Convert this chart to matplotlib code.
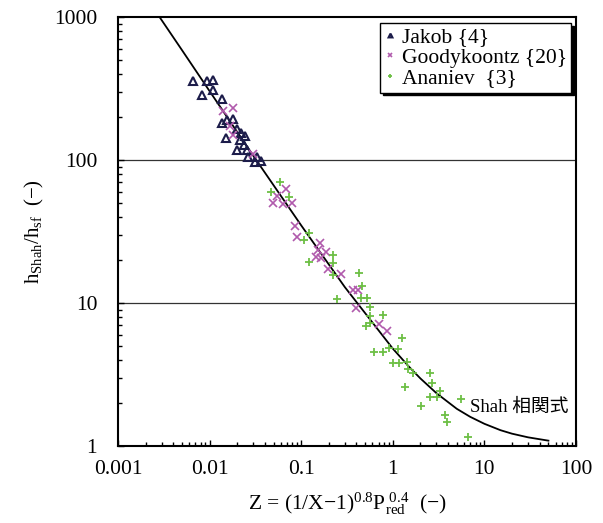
import matplotlib
matplotlib.use("Agg")
import matplotlib.pyplot as plt
from matplotlib.font_manager import FontProperties
from matplotlib.ticker import FixedLocator, FuncFormatter, LogLocator, NullFormatter

# Datos
jakob_z = [0.00664, 0.00929, 0.0110, 0.0082, 0.0108, 0.01355, 0.01355, 0.01538,
           0.01786, 0.0151, 0.0198, 0.0220, 0.0243, 0.0215, 0.0238, 0.0200,
           0.0254, 0.0264, 0.0327, 0.0313, 0.0362]
jakob_h = [357, 357, 363, 285, 309, 266, 181, 190, 193, 142, 164, 155, 146,
           138, 127, 117, 117, 104.5, 105.5, 96.4, 98.4]

goody_z = [0.01413, 0.01816, 0.0167, 0.01786, 0.0296, 0.0682, 0.0541, 0.0495,
           0.0638, 0.0787, 0.0855, 0.0893, 0.160, 0.151, 0.187, 0.145, 0.163,
           0.198, 0.270, 0.368, 0.412, 0.396, 0.713, 0.865]
goody_h = [221, 232, 174, 150, 110, 62.4, 56.0, 49.8, 49.2, 50.3, 34.8, 29.1,
           26.1, 23.5, 22.7, 21.1, 20.5, 17.3, 16.0, 12.3, 12.3, 9.23, 7.13, 6.42]

anan_z = [0.0588, 0.0465, 0.0731, 0.123, 0.107, 0.222, 0.122, 0.224, 0.221,
          0.430, 0.461, 0.244, 0.450, 0.523, 0.564, 0.787, 0.557, 0.509, 0.564,
          1.25, 0.624, 0.787, 0.916, 1.15, 1.01, 1.18, 1.44, 1.48, 1.65, 1.36,
          2.55, 2.66, 3.27, 2.55, 3.01, 2.03, 3.72, 3.94, 5.55, 6.67]
anan_h = [70.5, 60.0, 55.4, 31.0, 27.6, 21.7, 19.5, 18.9, 15.8, 16.1, 13.2,
          10.7, 10.9, 10.8, 9.41, 8.24, 8.05, 6.91, 7.21, 5.69, 4.56, 4.56,
          4.87, 4.77, 3.79, 3.79, 3.89, 3.44, 3.26, 2.57, 3.26, 2.77, 2.44,
          2.19, 2.19, 1.90, 1.65, 1.48, 2.12, 1.16]

# Curva de Shah (valores leídos)
shah_z = [0.00284, 0.005, 0.01, 0.03, 0.1, 0.3, 1, 1.5, 2, 3, 5, 7, 10, 15,
          20, 30, 50]
shah_h = [1000, 586, 303, 107, 34.9, 12.9, 4.8, 3.59, 2.97, 2.34, 1.82, 1.60,
          1.43, 1.29, 1.22, 1.15, 1.09]

plt.rcParams["font.family"] = ["Liberation Serif", "Noto Sans CJK JP"]
plt.rcParams["mathtext.fontset"] = "custom"
plt.rcParams["mathtext.rm"] = "Liberation Serif"
plt.rcParams["mathtext.it"] = "Liberation Serif"

fig = plt.figure(figsize=(6.03, 5.23), dpi=100)
ax = fig.add_axes([0.1957, 0.1472, 0.7595, 0.8203])

ax.axhline(10, color="#333333", lw=0.9, zorder=1)
ax.axhline(100, color="#333333", lw=0.9, zorder=1)

ax.plot(shah_z, shah_h, color="black", lw=1.3, zorder=2)

ax.plot(jakob_z, jakob_h, ls="none", marker="^", ms=5.5, mfc="none",
        mec="#1c1c4a", mew=1.5, label="Jakob {4}", zorder=3)
ax.plot(goody_z, goody_h, ls="none", marker="x", ms=5.5, color="#b05aac",
        mew=1.2, label="Goodykoontz {20}", zorder=3)
ax.plot(anan_z, anan_h, ls="none", marker="+", ms=6, color="#6dbf45",
        mew=1.3, label="Ananiev  {3}", zorder=3)

ax.set_xscale("log")
ax.set_yscale("log")
ax.set_xlim(0.001, 100)
ax.set_ylim(1, 1000)

fmt = FuncFormatter(lambda v, p: f"{v:g}")
ax.xaxis.set_major_locator(FixedLocator([0.001, 0.01, 0.1, 1, 10, 100]))
ax.yaxis.set_major_locator(FixedLocator([1, 10, 100, 1000]))
ax.xaxis.set_major_formatter(fmt)
ax.yaxis.set_major_formatter(fmt)
ax.xaxis.set_minor_locator(LogLocator(base=10, subs=range(2, 10)))
ax.yaxis.set_minor_locator(LogLocator(base=10, subs=range(2, 10)))
ax.xaxis.set_minor_formatter(NullFormatter())
ax.yaxis.set_minor_formatter(NullFormatter())
ax.tick_params(which="both", direction="in", top=False, right=False,
               labelsize=15.5, width=1)
ax.tick_params(which="major", length=4)
ax.tick_params(which="minor", length=3)
ax.tick_params(axis="x", which="major", pad=10)
ax.tick_params(axis="y", which="major", pad=15)
for s in ax.spines.values():
    s.set_linewidth(1.5)

ax.set_xlabel(r"Z = (1/X$-$1)$^{0.8}$P$_{\mathrm{red}}^{\ 0.4}$  ($-$)",
              fontsize=15.5, labelpad=8)
ax.set_ylabel(r"h$_{\mathrm{Shah}}$/h$_{\mathrm{sf}}$  ($-$)", fontsize=15,
              labelpad=6)

ax.text(7.0, 1.87, "Shah 相関式", fontsize=13.5, va="center", ha="left",
        family=["Liberation Serif", "Noto Sans CJK JP"])

leg = ax.legend(loc="upper right", bbox_to_anchor=(0.989, 0.986),
                prop=FontProperties(family="Liberation Serif", size=15.5),
                frameon=True, fancybox=False, markerscale=0.5,
                handlelength=0.5, handletextpad=0.3, borderpad=0.2,
                labelspacing=0.02, borderaxespad=0.0,
                shadow={"facecolor": "black", "edgecolor": "black", "alpha": 1})
leg.get_frame().set_edgecolor("black")
leg.get_frame().set_linewidth(1.0)

plt.savefig("out.png", dpi=100)
